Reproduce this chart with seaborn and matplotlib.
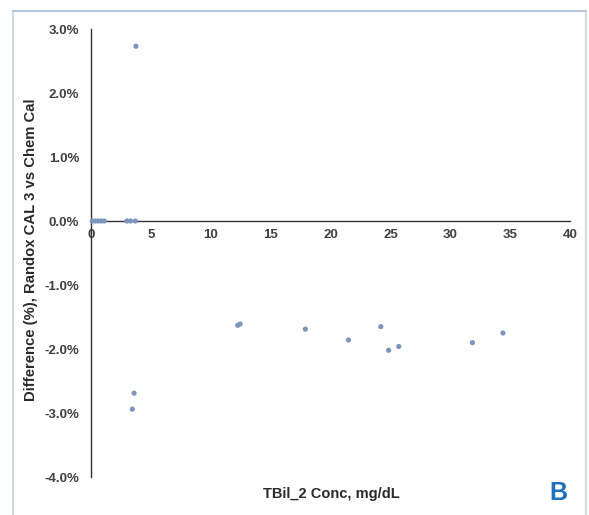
import matplotlib
matplotlib.use("Agg")
import matplotlib.pyplot as plt
import seaborn as sns
import pandas as pd
from matplotlib.patches import Rectangle
from matplotlib.ticker import FuncFormatter

sns.set_theme(style="white")
plt.rcParams['font.family'] = ['Liberation Sans', 'DejaVu Sans']

conc = [0.1, 0.35, 0.6, 0.85, 1.1, 3.0, 3.3, 3.7,
        3.75, 12.25, 12.45, 17.9, 21.5, 24.2, 24.85, 25.7, 31.85, 34.4,
        3.6, 3.45]
diff = [0.0, 0.0, 0.0, 0.0, 0.0, 0.0, 0.0, 0.0,
        2.73, -1.63, -1.61, -1.69, -1.86, -1.65, -2.02, -1.96, -1.90, -1.75,
        -2.69, -2.94]

xticks = [0, 5, 10, 15, 20, 25, 30, 35, 40]
yticks = [-4, -3, -2, -1, 0, 1, 2, 3]

df = pd.DataFrame({"conc": conc, "diff": diff})

fig = plt.figure(figsize=(5.89, 5.15), dpi=100)
ax = fig.add_axes([91/589, 1 - 477/515, (570 - 91)/589, (477 - 29)/515])

# light frame around the chart
fig.patches.append(Rectangle((13/589, -0.01), (586 - 13)/589, 1 - 11/515 + 0.01,
                             transform=fig.transFigure, fill=False,
                             edgecolor='#c9d2de', linewidth=1.2, zorder=0))
fig.lines.append(plt.Line2D([13/589, 586/589], [1 - 11/515, 1 - 11/515],
                            transform=fig.transFigure, color='#a9c0e0', linewidth=1.2))

sns.scatterplot(data=df, x="conc", y="diff", ax=ax, color='#7d94bd',
                s=14, edgecolor='none', zorder=3, clip_on=False)

ax.set_xlim(0, 40)
ax.set_ylim(-4, 3)
ax.set_xticks(xticks)
ax.set_yticks(yticks)
ax.yaxis.set_major_formatter(FuncFormatter(lambda v, p: f"{v:.1f}%"))

for s in ['top', 'right']:
    ax.spines[s].set_visible(False)
ax.spines['bottom'].set_position(('data', 0))
ax.spines['left'].set_color('#333333')
ax.spines['bottom'].set_color('#333333')
ax.spines['left'].set_linewidth(1.0)
ax.spines['bottom'].set_linewidth(1.0)

ax.tick_params(axis='both', direction='inout', length=7, width=1.0,
               color='#333333', labelsize=9.5, labelcolor='#404040')
ax.tick_params(axis='x', pad=2)
ax.tick_params(axis='y', pad=5)
for lab in ax.get_xticklabels() + ax.get_yticklabels():
    lab.set_fontweight('semibold')

ax.set_xlabel("")
ax.set_ylabel("")
fig.text(331/589, 1 - 494/515, "TBil_2 Conc, mg/dL", ha='center', va='center',
         fontsize=10.5, fontweight='bold', color='#2a2a2a')
fig.text(31/589, 1 - 250/515, "Difference (%), Randox CAL 3 vs Chem Cal",
         ha='center', va='center', rotation=90,
         fontsize=10.7, fontweight='bold', color='#2a2a2a')
fig.text(558/589, 1 - 493/515, "B", ha='center', va='center',
         fontsize=18, fontweight='bold', color='#1f6fbd')

fig.savefig("out.png", dpi=100)
